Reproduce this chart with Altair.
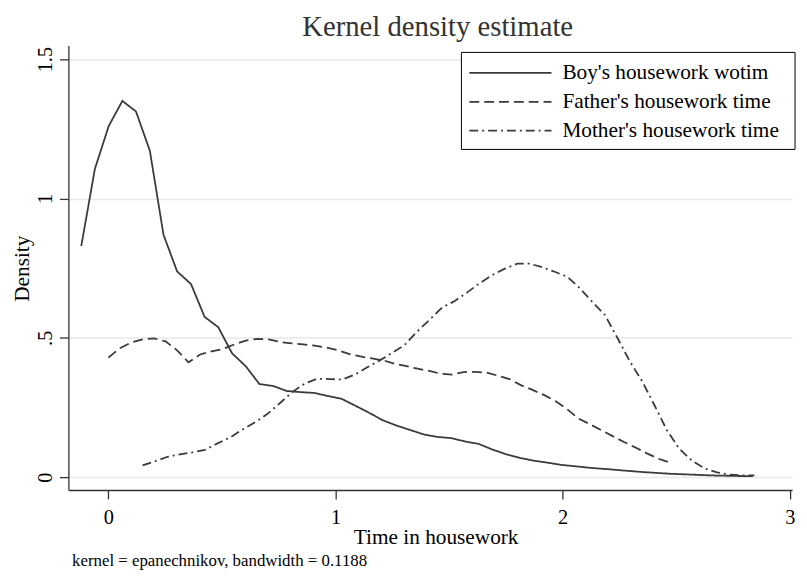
import altair as alt
import pandas as pd

FONT = "Liberation Serif"
LINE = "#3b3b3b"

series_names = ["Boy's housework wotim", "Father's housework time", "Mother's housework time"]
dash_styles = [[1, 0], [10, 5], [9, 4, 2, 4]]

boy_x = [-0.119, -0.059, 0.002, 0.062, 0.122, 0.183, 0.243, 0.303, 0.364, 0.424,
         0.484, 0.545, 0.605, 0.665, 0.726, 0.786, 0.846, 0.907, 0.967, 1.027,
         1.088, 1.148, 1.208, 1.269, 1.329, 1.389, 1.450, 1.510, 1.570, 1.631,
         1.691, 1.751, 1.812, 1.872, 1.932, 1.993, 2.053, 2.113, 2.174, 2.234,
         2.294, 2.355, 2.415, 2.475, 2.536, 2.596, 2.656, 2.717, 2.777, 2.837]
boy_y = [0.829, 1.106, 1.260, 1.350, 1.312, 1.171, 0.870, 0.738, 0.693, 0.575,
         0.538, 0.444, 0.398, 0.334, 0.327, 0.309, 0.305, 0.302, 0.291, 0.281,
         0.256, 0.231, 0.204, 0.185, 0.169, 0.153, 0.144, 0.140, 0.128, 0.119,
         0.099, 0.082, 0.069, 0.059, 0.052, 0.044, 0.039, 0.034, 0.030, 0.026,
         0.022, 0.018, 0.015, 0.012, 0.010, 0.008, 0.006, 0.005, 0.004, 0.0035]

father_x = [0.000, 0.050, 0.101, 0.151, 0.202, 0.252, 0.303, 0.353, 0.404, 0.454,
            0.505, 0.555, 0.605, 0.656, 0.706, 0.757, 0.807, 0.858, 0.908, 0.959,
            1.009, 1.059, 1.110, 1.160, 1.211, 1.261, 1.312, 1.362, 1.413, 1.463,
            1.514, 1.564, 1.614, 1.665, 1.715, 1.766, 1.816, 1.867, 1.917, 1.968,
            2.018, 2.068, 2.119, 2.169, 2.220, 2.270, 2.321, 2.371, 2.422, 2.472]
father_y = [0.429, 0.462, 0.483, 0.494, 0.498, 0.487, 0.455, 0.412, 0.440, 0.451,
            0.460, 0.476, 0.490, 0.496, 0.494, 0.485, 0.480, 0.476, 0.472, 0.465,
            0.456, 0.442, 0.433, 0.426, 0.419, 0.407, 0.398, 0.389, 0.381, 0.371,
            0.368, 0.377, 0.378, 0.375, 0.364, 0.352, 0.330, 0.313, 0.295, 0.273,
            0.245, 0.211, 0.190, 0.169, 0.147, 0.126, 0.106, 0.085, 0.066, 0.052]

mother_x = [0.151, 0.206, 0.261, 0.316, 0.371, 0.426, 0.481, 0.536, 0.591, 0.646,
            0.701, 0.756, 0.811, 0.865, 0.920, 0.975, 1.030, 1.085, 1.140, 1.195,
            1.250, 1.305, 1.360, 1.415, 1.470, 1.525, 1.580, 1.635, 1.690, 1.745,
            1.800, 1.855, 1.910, 1.965, 2.020, 2.075, 2.130, 2.185, 2.240, 2.295,
            2.349, 2.404, 2.459, 2.514, 2.569, 2.624, 2.679, 2.734, 2.789, 2.844]
mother_y = [0.042, 0.057, 0.073, 0.082, 0.089, 0.098, 0.121, 0.142, 0.171, 0.197,
            0.227, 0.266, 0.306, 0.336, 0.353, 0.352, 0.350, 0.368, 0.394, 0.419,
            0.446, 0.475, 0.523, 0.565, 0.609, 0.632, 0.663, 0.696, 0.725, 0.748,
            0.766, 0.766, 0.753, 0.737, 0.719, 0.678, 0.629, 0.583, 0.501, 0.416,
            0.345, 0.258, 0.168, 0.101, 0.059, 0.031, 0.017, 0.009, 0.006, 0.006]

y_ticks = [0, 0.5, 1, 1.5]
x_ticks = [0, 1, 2, 3]
title_text = "Kernel density estimate"
footnote = "kernel = epanechnikov, bandwidth = 0.1188"

rows = []
for name, xs, ys in [(series_names[0], boy_x, boy_y),
                     (series_names[1], father_x, father_y),
                     (series_names[2], mother_x, mother_y)]:
    for i, (xv, yv) in enumerate(zip(xs, ys)):
        rows.append({"series": name, "x": xv, "y": yv, "order": i})
df = pd.DataFrame(rows)

lines = alt.Chart(df).mark_line(strokeWidth=1.8, color=LINE, clip=True).encode(
    x=alt.X("x:Q",
            scale=alt.Scale(domain=[-0.1756, 3.0096], nice=False, zero=False),
            axis=alt.Axis(values=x_ticks, grid=False, title="Time in housework",
                          labelPadding=9, labelFlush=False,
                          titleX=371, titleY=54, titleAlign="center",
                          titleBaseline="alphabetic")),
    y=alt.Y("y:Q",
            scale=alt.Scale(domain=[-0.0462, 1.549], nice=False, zero=False),
            axis=alt.Axis(values=y_ticks, grid=True, title="Density",
                          labelExpr="datum.value == 0.5 ? '.5' : toString(datum.value)",
                          labelAngle=270, labelAlign="center", labelBaseline="bottom",
                          labelPadding=4, labelFlush=False,
                          titleX=-40, titleY=225, titleAlign="center",
                          titleBaseline="alphabetic")),
    strokeDash=alt.StrokeDash(
        "series:N",
        scale=alt.Scale(domain=series_names, range=dash_styles),
        legend=None),
    order="order:Q",
)

# legend drawn as a framed box with sample lines and labels
legend_box = alt.Chart(pd.DataFrame({"k": [0]})).mark_rect(
    fill="white", stroke="black", strokeWidth=1
).encode(x=alt.value(397), x2=alt.value(734), y=alt.value(7), y2=alt.value(105))

legend_rows_y = [27.7, 56.9, 86.0]
legend_layers = []
for name, dash, ly in zip(series_names, dash_styles, legend_rows_y):
    d = pd.DataFrame({"s": [name]})
    legend_layers.append(
        alt.Chart(d).mark_rule(color=LINE, strokeWidth=1.8, strokeDash=dash).encode(
            x=alt.value(405), x2=alt.value(488), y=alt.value(ly)))
    legend_layers.append(
        alt.Chart(d).mark_text(align="left", baseline="middle", font=FONT,
                               fontSize=21.5, color="black").encode(
            x=alt.value(499), y=alt.value(ly), text="s:N"))

title = alt.Chart(pd.DataFrame({"t": [title_text]})).mark_text(
    align="center", baseline="alphabetic", font=FONT, fontSize=29, color="#333333"
).encode(x=alt.value(373), y=alt.value(-10), text="t:N")

note = alt.Chart(pd.DataFrame({"t": [footnote]})).mark_text(
    align="left", baseline="alphabetic", font=FONT, fontSize=17, color="black"
).encode(x=alt.value(3.7), y=alt.value(526), text="t:N")

chart = alt.layer(lines, legend_box, *legend_layers, title, note).properties(
    width=731, height=449,
    padding={"left": 61, "top": 35, "right": 7, "bottom": 82},
    autosize=alt.AutoSizeParams(type="none"),
).configure_view(stroke=None).configure_axis(
    domainColor="#333333", domainWidth=1.3, tickColor="#333333", tickWidth=1.3,
    tickSize=9, labelFont=FONT, labelFontSize=20.5, labelColor="black",
    titleFont=FONT, titleFontSize=21.5, titleFontWeight="normal", titleColor="black",
    gridColor="#e8e8e8", gridWidth=1.5,
)

chart.save("out.html", embed_options={"renderer": "svg", "actions": False})
